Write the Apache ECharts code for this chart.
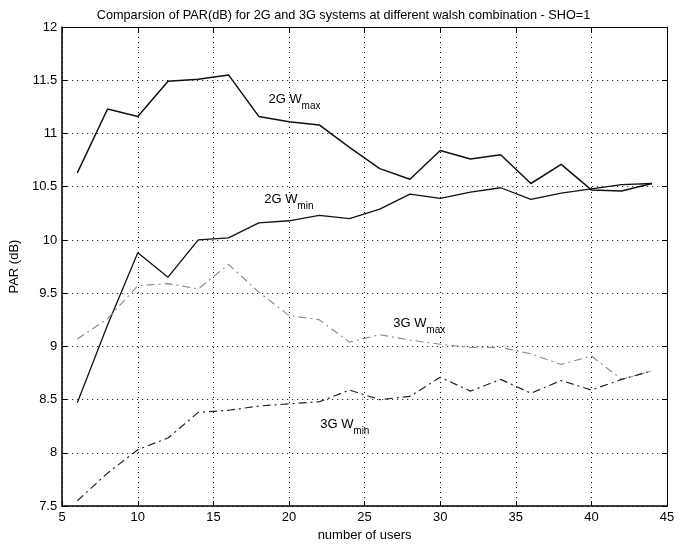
<!DOCTYPE html>
<html>
<head>
<meta charset="utf-8">
<script src="https://cdn.jsdelivr.net/npm/echarts@6/dist/echarts.min.js"></script>
<style>
  html, body { margin: 0; padding: 0; background: #fff; }
  #chart { width: 687px; height: 547px; }
</style>
</head>
<body>
<div id="chart"></div>
<script>
// number of users
const users = [6, 8, 10, 12, 14, 16, 18, 20, 22, 24, 26, 28, 30, 32, 34, 36, 38, 40, 42, 44];

// PAR (dB)
const par2GWmax = [10.63, 11.23, 11.16, 11.49, 11.51, 11.55, 11.16, 11.11, 11.08, 10.87, 10.67, 10.57, 10.84, 10.76, 10.80, 10.53, 10.71, 10.47, 10.46, 10.53];
const par2GWmin = [8.47, 9.20, 9.88, 9.65, 10.00, 10.02, 10.16, 10.18, 10.23, 10.20, 10.29, 10.43, 10.39, 10.45, 10.49, 10.38, 10.44, 10.48, 10.52, 10.53];
const par3GWmax = [9.07, 9.26, 9.57, 9.59, 9.54, 9.77, 9.51, 9.29, 9.25, 9.04, 9.11, 9.06, 9.02, 8.99, 8.99, 8.93, 8.83, 8.91, 8.69, 8.77];
const par3GWmin = [7.55, 7.81, 8.03, 8.14, 8.38, 8.40, 8.44, 8.46, 8.48, 8.59, 8.50, 8.53, 8.71, 8.58, 8.69, 8.56, 8.68, 8.59, 8.69, 8.77];

// curve labels: [main text, subscript, x, y]
const curveLabels = [
  ['2G W', 'max', 18.65, 11.32],
  ['2G W', 'min', 18.37, 10.38],
  ['3G W', 'max', 26.9, 9.22],
  ['3G W', 'min', 22.07, 8.27]
];

const font = 'Liberation Sans, Arial, Helvetica, sans-serif';

function pairs(ys) {
  return users.map((u, i) => [u, ys[i]]);
}

function lineSeries(name, ys, color, type, width) {
  return {
    name: name,
    type: 'line',
    data: pairs(ys),
    symbol: 'none',
    lineStyle: { color: color, width: width, type: type },
    silent: true,
    animation: false
  };
}

const hiddenAxis = {
  axisLabel: { show: false },
  axisTick: { inside: true, length: 5, lineStyle: { color: '#000' } },
  axisLine: { lineStyle: { color: '#000', width: 1 } },
  splitLine: { show: false }
};

const chart = echarts.init(document.getElementById('chart'));
chart.setOption({
  animation: false,
  backgroundColor: '#fff',
  title: {
    text: 'Comparsion of PAR(dB) for 2G and 3G systems at different walsh combination - SHO=1',
    left: 'center',
    top: 4,
    textStyle: { fontFamily: font, fontSize: 12.7, fontWeight: 'normal', color: '#000' }
  },
  grid: { left: 62, right: 20, top: 27, bottom: 39 },
  xAxis: [{
    type: 'value',
    min: 5, max: 45, interval: 5,
    name: 'number of users',
    nameLocation: 'middle',
    nameGap: 22,
    nameTextStyle: { fontFamily: font, fontSize: 13, color: '#000' },
    axisLabel: { fontFamily: font, fontSize: 13, color: '#000', margin: 5 },
    axisTick: { inside: true, length: 5, lineStyle: { color: '#000' } },
    axisLine: { lineStyle: { color: '#000', width: 1.5 } },
    splitLine: { show: true, lineStyle: { color: '#000', type: [1, 4], width: 1 } }
  }, Object.assign({ type: 'value', position: 'top', min: 5, max: 45, interval: 5 }, hiddenAxis)],
  yAxis: [{
    type: 'value',
    min: 7.5, max: 12, interval: 0.5,
    name: 'PAR (dB)',
    nameLocation: 'middle',
    nameGap: 36,
    nameTextStyle: { fontFamily: font, fontSize: 13, color: '#000' },
    axisLabel: { fontFamily: font, fontSize: 13, color: '#000', margin: 5 },
    axisTick: { inside: true, length: 5, lineStyle: { color: '#000' } },
    axisLine: { lineStyle: { color: '#000', width: 1.5 } },
    splitLine: { show: true, lineStyle: { color: '#000', type: [1, 4], width: 1 } }
  }, Object.assign({ type: 'value', position: 'right', min: 7.5, max: 12, interval: 0.5 }, hiddenAxis)],
  series: [
    lineSeries('2G Wmax', par2GWmax, '#111', 'solid', 1.5),
    lineSeries('2G Wmin', par2GWmin, '#111', 'solid', 1.3),
    lineSeries('3G Wmax', par3GWmax, '#888', [8, 4, 2, 4], 1.1),
    lineSeries('3G Wmin', par3GWmin, '#222', [8, 4, 2, 4], 1.2)
  ]
});

// place the curve labels in data coordinates
const graphics = [];
curveLabels.forEach(l => {
  const p = chart.convertToPixel({ xAxisIndex: 0, yAxisIndex: 0 }, [l[2], l[3]]);
  graphics.push({
    type: 'text', x: p[0], y: p[1],
    style: { text: l[0], fontFamily: font, fontSize: 13, fill: '#000', textVerticalAlign: 'middle' }
  });
  graphics.push({
    type: 'text', x: p[0] + 33, y: p[1] + 7,
    style: { text: l[1], fontFamily: font, fontSize: 10, fill: '#000', textVerticalAlign: 'middle' }
  });
});
chart.setOption({ graphic: graphics });
</script>
</body>
</html>
